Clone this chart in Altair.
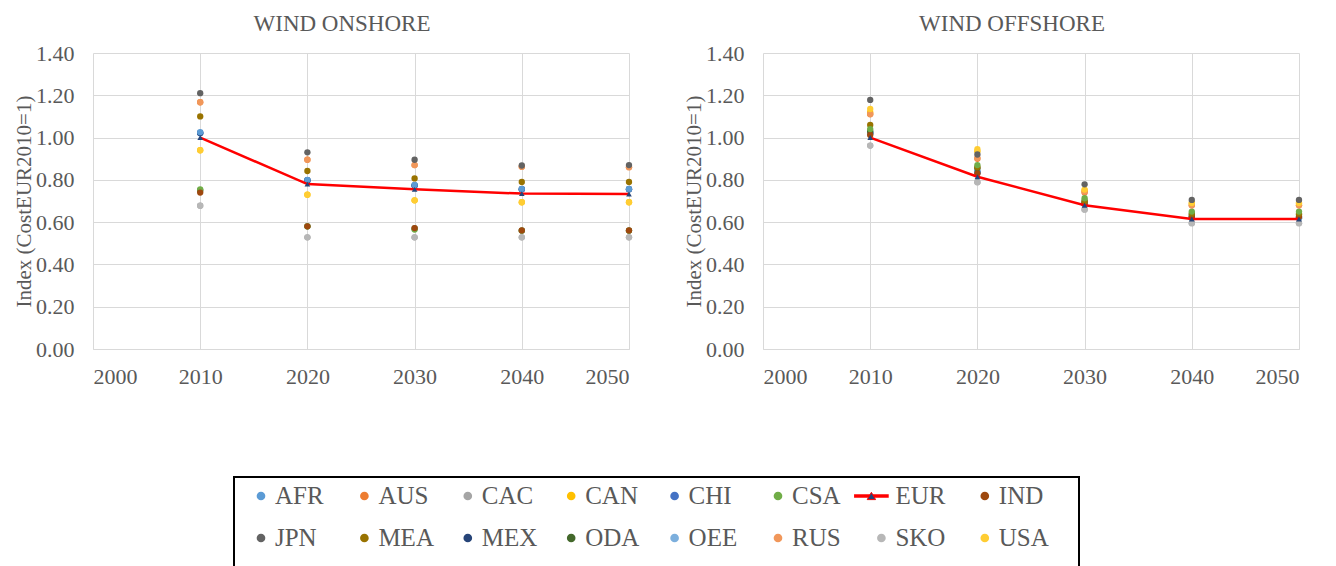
import altair as alt
import pandas as pd

years = [2010, 2020, 2030, 2040, 2050]
regions = ["AFR", "AUS", "CAC", "CAN", "CHI", "CSA", "EUR", "IND",
           "JPN", "MEA", "MEX", "ODA", "OEE", "RUS", "SKO", "USA"]
colors = ["#5B9BD5", "#ED7D31", "#A5A5A5", "#FFC000", "#4472C4", "#70AD47", "#FF0000", "#9E480E",
          "#636363", "#997300", "#264478", "#43682B", "#7CAFDD", "#F1975A", "#B7B7B7", "#FFCD33"]

onshore = {
    "OEE": [1.020, 0.795, 0.772, 0.755, 0.755],
    "CHI": [1.022, 0.798, 0.774, 0.756, 0.756],
    "MEX": [1.022, 0.798, 0.774, 0.756, 0.756],
    "AUS": [1.167, 0.895, 0.870, 0.862, 0.860],
    "CAN": [0.940, 0.730, 0.703, 0.694, 0.694],
    "ODA": [0.750, 0.580, 0.570, 0.560, 0.560],
    "CAC": [0.678, 0.528, 0.528, 0.528, 0.528],
    "CSA": [0.755, 0.580, 0.565, 0.560, 0.560],
    "IND": [0.740, 0.580, 0.572, 0.561, 0.561],
    "SKO": [0.678, 0.528, 0.528, 0.528, 0.528],
    "USA": [0.940, 0.730, 0.703, 0.694, 0.694],
    "AFR": [1.025, 0.800, 0.776, 0.757, 0.757],
    "MEA": [1.100, 0.842, 0.807, 0.790, 0.790],
    "RUS": [1.167, 0.895, 0.870, 0.862, 0.860],
    "JPN": [1.210, 0.930, 0.895, 0.868, 0.870],
    "EUR": [1.000, 0.780, 0.755, 0.735, 0.733],
}

offshore = {
    "CHI": [1.020, 0.835, 0.685, 0.620, 0.620],
    "MEX": [1.020, 0.835, 0.685, 0.620, 0.620],
    "CAC": [0.962, 0.789, 0.660, 0.595, 0.595],
    "OEE": [1.020, 0.835, 0.685, 0.620, 0.620],
    "AFR": [1.025, 0.840, 0.690, 0.625, 0.625],
    "ODA": [1.030, 0.855, 0.700, 0.635, 0.635],
    "AUS": [1.110, 0.900, 0.740, 0.680, 0.680],
    "CAN": [1.120, 0.935, 0.750, 0.690, 0.690],
    "SKO": [0.962, 0.789, 0.659, 0.595, 0.595],
    "IND": [1.012, 0.830, 0.690, 0.625, 0.625],
    "MEA": [1.060, 0.860, 0.697, 0.640, 0.640],
    "CSA": [1.040, 0.870, 0.713, 0.650, 0.650],
    "RUS": [1.112, 0.903, 0.744, 0.680, 0.680],
    "USA": [1.135, 0.945, 0.754, 0.690, 0.690],
    "JPN": [1.178, 0.920, 0.779, 0.705, 0.705],
    "EUR": [1.000, 0.815, 0.680, 0.615, 0.615],
}

x_ticks = [2000, 2010, 2020, 2030, 2040, 2050]
y_ticks = [0.0, 0.2, 0.4, 0.6, 0.8, 1.0, 1.2, 1.4]

FONT = "Liberation Serif"
GRAY = "#595959"

dot_domain = [r for r in regions if r != "EUR"]
dot_range = [c for r, c in zip(regions, colors) if r != "EUR"]


def long_df(vals):
    rows = []
    for r, v in vals.items():
        for y, val in zip(years, v):
            rows.append({"region": r, "year": y, "value": val})
    return pd.DataFrame(rows)


def panel(title, vals):
    df = long_df(vals)
    x = alt.X("year:Q", scale=alt.Scale(domain=[2000, 2050], nice=False),
              axis=alt.Axis(values=x_ticks, format="d", title=None, labelPadding=17,
                            domain=True, grid=True))
    y = alt.Y("value:Q", scale=alt.Scale(domain=[0, 1.4], nice=False),
              axis=alt.Axis(values=y_ticks, format=".2f", title="Index (CostEUR2010=1)",
                            labelPadding=19, titlePadding=1, domain=False, grid=True))
    pts = alt.Chart(df[df.region != "EUR"]).mark_circle(size=40, opacity=1).encode(
        x=x, y=y,
        color=alt.Color("region:N", scale=alt.Scale(domain=dot_domain, range=dot_range), legend=None),
    )
    line = alt.Chart(df[df.region == "EUR"]).mark_line(
        color="#FF0000", strokeWidth=2.5,
        point=alt.OverlayMarkDef(shape="triangle-up", size=32, filled=True, color="#264478"),
    ).encode(x=x, y=y)
    return alt.layer(pts, line).properties(
        width=536, height=296,
        title=alt.TitleParams(title, font=FONT, fontSize=23, color=GRAY, fontWeight="normal",
                              offset=6, dx=-19),
    )


left = panel("WIND ONSHORE", onshore)
right = panel("WIND OFFSHORE", offshore)

# legend built from region list
leg_rows = []
for i, (r, c) in enumerate(zip(regions, colors)):
    leg_rows.append({"region": r, "col": i % 8, "row": -(i // 8), "color": c})
leg = pd.DataFrame(leg_rows)

lx = alt.X("col:Q", scale=alt.Scale(domain=[-0.261, 7.911], nice=False, zero=False), axis=None)
ly = alt.Y("row:Q", scale=alt.Scale(domain=[-1.81, 0.452], nice=False, zero=False), axis=None)

leg_dots = alt.Chart(leg[leg.region != "EUR"]).mark_circle(size=75, opacity=1).encode(
    x=lx, y=ly,
    color=alt.Color("region:N", scale=alt.Scale(domain=dot_domain, range=dot_range), legend=None),
)
leg_line = alt.Chart(leg[leg.region == "EUR"]).mark_point(
    shape="M-1,0L1,0", size=1200, stroke="#FF0000", strokeWidth=3.5, filled=False, opacity=1,
    xOffset=-10,
).encode(x=lx, y=ly)
leg_tri = alt.Chart(leg[leg.region == "EUR"]).mark_point(
    shape="triangle-up", size=70, filled=True, color="#264478", opacity=1, xOffset=-10,
    stroke="#FF0000", strokeWidth=1,
).encode(x=lx, y=ly)
leg_text = alt.Chart(leg).mark_text(
    align="left", baseline="middle", dx=14, font=FONT, fontSize=25, color=GRAY,
).encode(x=lx, y=ly, text="region:N")

legend = alt.layer(leg_dots, leg_line, leg_tri, leg_text).properties(
    width=845, height=95,
    view=alt.ViewBackground(stroke="black", strokeWidth=2, fill="white"),
)

spacer = alt.Chart(pd.DataFrame({"a": [0]})).mark_point(opacity=0).encode(
    x=alt.X("a:Q", axis=None), y=alt.Y("a:Q", axis=None)
).properties(width=140, height=1)

chart = alt.vconcat(
    alt.hconcat(left, right, spacing=49),
    alt.hconcat(spacer, legend, spacing=0),
    spacing=87,
).properties(background="white").configure_axis(
    labelFont=FONT, labelFontSize=22, labelColor=GRAY,
    titleFont=FONT, titleFontSize=21, titleColor=GRAY, titleFontWeight="normal",
    gridColor="#D9D9D9", domainColor="#D9D9D9", ticks=False,
).configure_view(stroke=None)

chart.save("out.html", embed_options={"renderer": "svg", "actions": False})
